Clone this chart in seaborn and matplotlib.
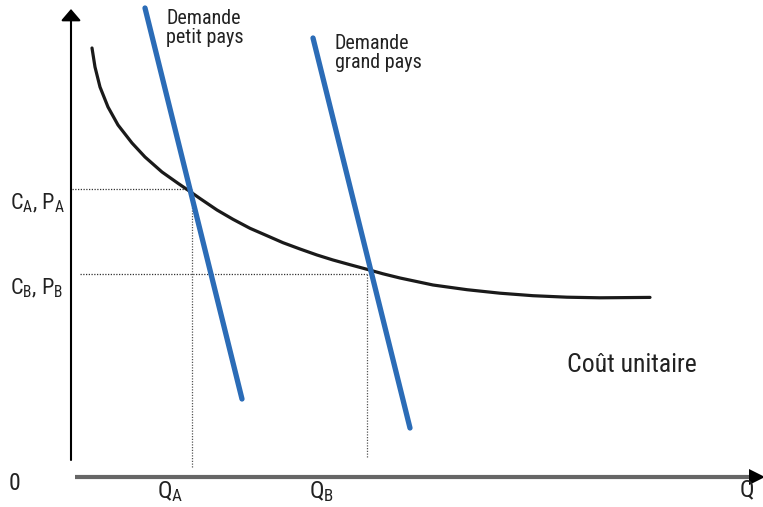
"""
Coût unitaire et demande : petit pays vs grand pays
"""

import numpy as np
import matplotlib.pyplot as plt
import seaborn as sns

# Courbe de coût unitaire (Q, prix)
cout_q = [21, 24, 29, 37, 47, 61, 74, 91, 107, 119, 129, 146, 162, 179, 196,
          212, 229, 246, 262, 279, 296, 312, 329, 362, 396, 429, 462, 496,
          529, 579]
cout_p = [429, 410, 390, 370, 352, 334, 320, 305, 293.7, 285.5, 278.5, 267,
          257.7, 248.7, 241.3, 234.3, 228, 222, 217, 212.3, 207.7, 203.2,
          199, 192, 187.3, 183.8, 181.3, 179.8, 179.2, 179.6]

# Droites de demande (extrémités)
petit_q = [74, 171]
petit_p = [469, 78]
grand_q = [242, 339]
grand_p = [439, 49]

# Équilibres A (petit pays) et B (grand pays)
eq_q = [121, 296]
eq_p = [288, 203]
eq_q_bas = [10, 20]   # bas des pointillés verticaux
eq_p_gauche = [1, 9]  # début des pointillés horizontaux

BLEU = "#2b6cb7"
TEXTE = "#222222"

sns.set_style("white")
plt.rcParams["font.family"] = ["Roboto Condensed", "Liberation Sans Narrow",
                               "Roboto", "DejaVu Sans"]
plt.rcParams["mathtext.default"] = "regular"

fig = plt.figure(figsize=(7.63, 5.07), dpi=100)
ax = fig.add_axes([0, 0, 1, 1])
ax.set_xlim(-71, 692)
ax.set_ylim(-30, 477)
ax.axis("off")

# Axes du graphique
ax.annotate("", xy=(0, 468), xytext=(0, 17),
            arrowprops=dict(arrowstyle="-|>,head_width=0.6,head_length=0.7",
                            color="black", lw=1.5, shrinkA=0, shrinkB=0))
ax.plot([4, 684], [0, 0], color="#666666", lw=3, solid_capstyle="butt")
ax.plot([686], [0], marker=">", ms=11, color="black", mew=0)

# Pointillés
for q, p, qb, pg in zip(eq_q, eq_p, eq_q_bas, eq_p_gauche):
    ax.plot([pg, q], [p, p], color="#333333", lw=0.9, ls=(0, (1, 1.2)))
    ax.plot([q, q], [qb, p], color="#555555", lw=0.9, ls=(0, (1, 1.2)))

# Courbes
sns.lineplot(x=cout_q, y=cout_p, sort=False, color="#1a1a1a", lw=2.3, ax=ax)
sns.lineplot(x=petit_q, y=petit_p, sort=False, color=BLEU, lw=3.8, ax=ax)
sns.lineplot(x=grand_q, y=grand_p, sort=False, color=BLEU, lw=3.8, ax=ax)

# Textes
ax.text(95, 468, "Demande\npetit pays", fontsize=14.5, va="top", ha="left",
        color=TEXTE, linespacing=1.0)
ax.text(264, 443, "Demande\ngrand pays", fontsize=14.5, va="top", ha="left",
        color=TEXTE, linespacing=1.0)
ax.text(496, 112, "Coût unitaire", fontsize=18.5, va="center", ha="left",
        color=TEXTE)

ax.text(-61, 274, "C$_A$, P$_A$", fontsize=16, va="center", ha="left",
        color=TEXTE)
ax.text(-61, 189, "C$_B$, P$_B$", fontsize=16, va="center", ha="left",
        color=TEXTE)
ax.text(-56, -6, "0", fontsize=17, va="center", ha="center", color=TEXTE)
ax.text(99, -15, "Q$_A$", fontsize=17.5, va="center", ha="center", color=TEXTE)
ax.text(251, -15, "Q$_B$", fontsize=17.5, va="center", ha="center", color=TEXTE)
ax.text(676, -13, "Q", fontsize=17.5, va="center", ha="center", color=TEXTE)

fig.savefig("out.png", dpi=100)
